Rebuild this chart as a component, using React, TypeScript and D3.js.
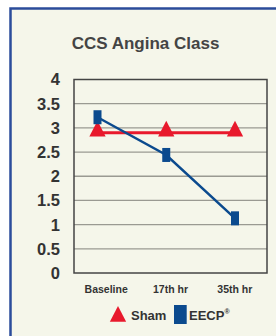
import * as d3 from 'd3';

const categories = ['Baseline', '17th hr', '35th hr'];
const sham = [2.9, 2.9, 2.9];
const eecp = [3.22, 2.44, 1.13];
const yTicks = [0, 0.5, 1, 1.5, 2, 2.5, 3, 3.5, 4];

const W = 276;
const H = 336;
const plot = { left: 74, right: 267, top: 79.5, bottom: 273 };

export default function App() {
  const y = d3.scaleLinear([0, 4], [plot.bottom, plot.top]);
  const xBand = d3.scaleBand(categories, [plot.left, plot.right]);
  const xPoint = d3.scalePoint(categories, [plot.left + 23.5, plot.right - 32]);

  const line = d3
    .line<number>()
    .x((_, i) => xPoint(categories[i])!)
    .y((d) => y(d));

  const tri = d3.symbol(d3.symbolTriangle, 115)();

  return (
    <svg
      width={W}
      height={H}
      style={{ position: 'absolute', left: 0, top: 0, fontFamily: 'Liberation Sans, Arial, sans-serif' }}
    >
      <rect width={W} height={H} fill="#fff" />
      <rect x={10.5} y={8.5} width={W + 10} height={H + 10} fill="#f5f6ea" stroke="#2b4c9b" strokeWidth={2.5} />

      <text x={145.5} y={49} textAnchor="middle" fontSize={17} fontWeight="bold" fill="#444">
        CCS Angina Class
      </text>

      {yTicks.map((t) => (
        <g key={t}>
          {t > 0 && t < 4 && (
            <line x1={plot.left} x2={plot.right} y1={y(t)} y2={y(t)} stroke="#9a9a92" strokeWidth={1.3} />
          )}
          <text x={60} y={y(t)} dy="0.36em" textAnchor="end" fontSize={16.5} fontWeight="bold" fill="#333">
            {t}
          </text>
        </g>
      ))}

      <rect
        x={plot.left}
        y={plot.top}
        width={plot.right - plot.left}
        height={plot.bottom - plot.top}
        fill="none"
        stroke="#444"
        strokeWidth={1.5}
      />

      {categories.map((c) => (
        <text
          key={c}
          x={xBand(c)! + xBand.bandwidth() / 2}
          y={292.5}
          textAnchor="middle"
          fontSize={10.5}
          fontWeight="bold"
          fill="#333"
        >
          {c}
        </text>
      ))}

      <path d={line(sham)!} fill="none" stroke="#e8192c" strokeWidth={3} />
      {sham.map((v, i) => (
        <path
          key={i}
          d={tri}
          transform={`translate(${xPoint(categories[i])},${y(v) - 1.5}) scale(1,1.1)`}
          fill="#e8192c"
        />
      ))}

      <path d={line(eecp)!} fill="none" stroke="#0b4a8e" strokeWidth={2.5} />
      {eecp.map((v, i) => (
        <rect key={i} x={xPoint(categories[i])! - 4} y={y(v) - 7} width={8} height={14} fill="#0b4a8e" />
      ))}

      <path d={tri} transform="translate(118,316.5) scale(1,1.12)" fill="#e8192c" />
      <text x={131} y={320} fontSize={13} fontWeight="bold" fill="#333">
        Sham
      </text>
      <rect x={174} y={305} width={12.7} height={19} fill="#0b4a8e" />
      <text x={189} y={320} fontSize={13} fontWeight="bold" fill="#333">
        EECP
        <tspan fontSize={7} dy={-6}>®</tspan>
      </text>
    </svg>
  );
}
